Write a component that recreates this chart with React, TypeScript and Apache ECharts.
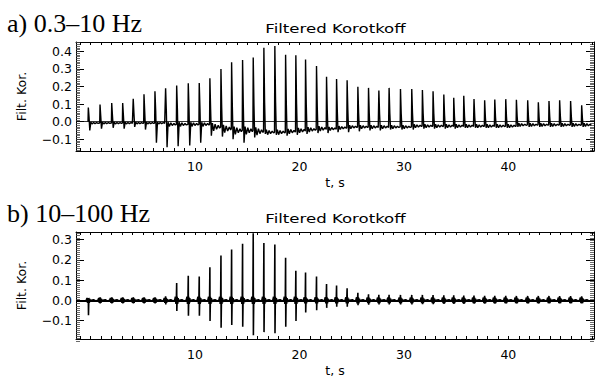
import React, { useEffect, useRef } from "react";
import * as echarts from "echarts";

// ---- data ----
const beatTimes = [-0.22, 0.9, 2.02, 3.07, 4.08, 5.11, 6.16, 7.18, 8.24, 9.35, 10.4, 11.42, 12.48, 13.5, 14.55, 15.57, 16.59, 17.64, 18.67, 19.65, 20.58, 21.63, 22.59, 23.55, 24.56, 25.59, 26.61, 27.6, 28.58, 29.67, 30.75, 31.77, 32.79, 33.82, 34.77, 35.73, 36.71, 37.73, 38.7, 39.75, 40.77, 41.85, 42.87, 43.89, 44.91, 45.96, 47.02];

// panel a (0.3–10 Hz)
const peakA = [0.08, 0.097, 0.106, 0.106, 0.13, 0.156, 0.173, 0.19, 0.205, 0.218, 0.22, 0.247, 0.3, 0.338, 0.35, 0.365, 0.42, 0.43, 0.38, 0.378, 0.353, 0.316, 0.255, 0.242, 0.236, 0.199, 0.192, 0.177, 0.192, 0.186, 0.186, 0.18, 0.173, 0.154, 0.136, 0.147, 0.128, 0.121, 0.126, 0.128, 0.125, 0.121, 0.11, 0.117, 0.121, 0.117, 0.093];
const troughA = [-0.05, -0.04, -0.035, -0.04, -0.03, -0.045, -0.12, -0.145, -0.14, -0.135, -0.12, -0.08, -0.085, -0.1, -0.12, -0.09, -0.07, -0.075, -0.08, -0.075, -0.07, -0.065, -0.065, -0.06, -0.06, -0.055, -0.05, -0.05, -0.045, -0.045, -0.045, -0.04, -0.04, -0.04, -0.04, -0.035, -0.035, -0.035, -0.035, -0.035, -0.03, -0.03, -0.03, -0.03, -0.03, -0.03, -0.03];
const baseA = [-0.008, -0.008, -0.008, -0.008, -0.008, -0.008, -0.008, -0.015, -0.015, -0.015, -0.015, -0.03, -0.04, -0.05, -0.05, -0.055, -0.06, -0.06, -0.055, -0.05, -0.045, -0.04, -0.04, -0.035, -0.03, -0.03, -0.03, -0.03, -0.03, -0.03, -0.025, -0.025, -0.025, -0.025, -0.025, -0.025, -0.025, -0.025, -0.025, -0.025, -0.018, -0.018, -0.018, -0.018, -0.018, -0.018, -0.018];
const rippleA = [0.005, 0.005, 0.005, 0.005, 0.005, 0.005, 0.005, 0.012, 0.012, 0.012, 0.012, 0.022, 0.022, 0.022, 0.022, 0.022, 0.014, 0.014, 0.014, 0.014, 0.014, 0.014, 0.01, 0.01, 0.01, 0.01, 0.01, 0.01, 0.01, 0.01, 0.01, 0.01, 0.01, 0.01, 0.01, 0.01, 0.01, 0.01, 0.01, 0.01, 0.009, 0.009, 0.009, 0.009, 0.009, 0.009, 0.009];

// panel b (10–100 Hz)
const peakB = [0.012, 0.015, 0.015, 0.015, 0.015, 0.015, 0.015, 0.02, 0.086, 0.122, 0.118, 0.164, 0.222, 0.251, 0.28, 0.332, 0.284, 0.276, 0.211, 0.146, 0.138, 0.118, 0.081, 0.073, 0.06, 0.037, 0.03, 0.028, 0.028, 0.027, 0.027, 0.027, 0.026, 0.025, 0.025, 0.024, 0.024, 0.023, 0.023, 0.023, 0.022, 0.022, 0.022, 0.022, 0.021, 0.021, 0.02];
const troughB = [-0.073, -0.015, -0.015, -0.015, -0.015, -0.015, -0.015, -0.02, -0.053, -0.076, -0.076, -0.102, -0.135, -0.122, -0.13, -0.173, -0.157, -0.162, -0.13, -0.102, -0.06, -0.049, -0.037, -0.032, -0.032, -0.024, -0.022, -0.02, -0.02, -0.02, -0.02, -0.019, -0.019, -0.018, -0.018, -0.018, -0.017, -0.017, -0.017, -0.016, -0.016, -0.016, -0.016, -0.015, -0.015, -0.015, -0.015];
const blobB = [0.012, 0.012, 0.012, 0.012, 0.012, 0.012, 0.012, 0.012, 0.018, 0.018, 0.018, 0.018, 0.018, 0.018, 0.018, 0.018, 0.018, 0.018, 0.018, 0.018, 0.015, 0.015, 0.015, 0.015, 0.015, 0.015, 0.014, 0.014, 0.014, 0.014, 0.014, 0.014, 0.014, 0.014, 0.014, 0.014, 0.014, 0.014, 0.014, 0.014, 0.014, 0.014, 0.014, 0.014, 0.014, 0.014, 0.014];

// axes
const T_MIN = -1.4;
const T_MAX = 48.2;
const xLabelVals = [10, 20, 30, 40];
const yLabelsA = [-0.1, 0, 0.1, 0.2, 0.3, 0.4];
const yLabelsB = [-0.1, 0, 0.1, 0.2, 0.3];
const Y_A: [number, number] = [-0.167, 0.453];
const Y_B: [number, number] = [-0.191, 0.338];

const xTickVals: number[] = [];
for (let k = -1; k <= 48; k++) xTickVals.push(k);
function minorTicks(lo: number, hi: number): number[] {
  const out: number[] = [];
  for (let k = Math.ceil(lo * 100); k <= Math.floor(hi * 100); k++) out.push(k / 100);
  return out;
}

// build traces from the per-beat readings
function traceA(): number[][] {
  const out: number[][] = [];
  beatTimes.forEach((t, i) => {
    const b = baseA[i];
    const r = rippleA[i];
    const before = i > 0 ? baseA[i - 1] : 0;
    out.push(
      [t - 0.03, before],
      [t, peakA[i]],
      [t + 0.07, b + peakA[i] * 0.4],
      [t + 0.14, troughA[i]],
      [t + 0.24, b + r],
      [t + 0.36, b - r],
      [t + 0.5, b + r * 0.7],
      [t + 0.64, b - r * 0.6],
      [t + 0.8, b + r * 0.4],
      [t + 0.93, b - r * 0.3]
    );
  });
  return out;
}
function traceB(): number[][] {
  const out: number[][] = [];
  beatTimes.forEach((t, i) => {
    const bl = blobB[i];
    out.push(
      [t - 0.2, 0],
      [t - 0.12, bl],
      [t - 0.07, -bl],
      [t - 0.03, bl * 0.6],
      [t, peakB[i]],
      [t + 0.015, troughB[i]],
      [t + 0.05, bl],
      [t + 0.09, -bl],
      [t + 0.14, bl * 0.6],
      [t + 0.2, -bl * 0.4],
      [t + 0.28, 0],
      [t + 0.5, 0.003],
      [t + 0.7, -0.003]
    );
  });
  return out;
}

const FONT = "DejaVu Sans";
const BLACK = "#000";
const GA = { left: 76, top: 42, width: 518, height: 109 };
const GB = { left: 76, top: 232, width: 518, height: 109 };

const fmtY = (v: number) => (v < 0 ? "\u2212" + Math.abs(v).toFixed(1) : v.toFixed(1));

function xAxesFor(grid: number) {
  const common = {
    type: "value",
    gridIndex: grid,
    min: T_MIN,
    max: T_MAX,
    splitLine: { show: false },
    axisLine: { show: true, onZero: false, lineStyle: { color: BLACK, width: 1 } },
    axisTick: { show: true, inside: true, length: 3, customValues: xTickVals, lineStyle: { color: BLACK, width: 1 } },
  };
  return [
    {
      ...common,
      position: "bottom",
      axisLabel: { show: true, customValues: xLabelVals, margin: 9, color: BLACK, fontFamily: FONT, fontSize: 12.5 },
      name: "t, s",
      nameLocation: "middle",
      nameGap: 25,
      nameTextStyle: { color: BLACK, fontFamily: FONT, fontSize: 12.5 },
    },
    { ...common, position: "top", axisLabel: { show: false } },
  ];
}
function yAxesFor(grid: number, range: [number, number], labels: number[]) {
  const common = {
    type: "value",
    gridIndex: grid,
    min: range[0],
    max: range[1],
    splitLine: { show: false },
    axisLine: { show: true, onZero: false, lineStyle: { color: BLACK, width: 1 } },
    axisTick: { show: true, inside: true, length: 8, customValues: labels, lineStyle: { color: BLACK, width: 1 } },
  };
  return [
    {
      ...common,
      position: "left",
      axisLabel: { show: true, customValues: labels, formatter: fmtY, margin: 4, color: BLACK, fontFamily: FONT, fontSize: 12.5 },
      name: "Filt. Kor.",
      nameLocation: "middle",
      nameRotate: 90,
      nameGap: 48,
      nameTextStyle: { color: BLACK, fontFamily: FONT, fontSize: 12.5 },
    },
    { ...common, position: "right", axisLabel: { show: false } },
  ];
}
function minorAxesFor(grid: number, range: [number, number]) {
  const common = {
    type: "value",
    gridIndex: grid,
    min: range[0],
    max: range[1],
    splitLine: { show: false },
    axisLine: { show: false, onZero: false },
    axisLabel: { show: false },
    axisTick: { show: true, inside: true, length: 4, customValues: minorTicks(range[0], range[1]), lineStyle: { color: "#444", width: 0.8 } },
  };
  return [
    { ...common, position: "left" },
    { ...common, position: "right" },
  ];
}

const zeroLine = (width: number) => ({
  silent: true,
  symbol: ["none", "none"],
  label: { show: false },
  lineStyle: { color: BLACK, width, type: "solid" },
  data: [{ yAxis: 0 }],
});

function buildOption() {
  return {
    animation: false,
    backgroundColor: "#fff",
    grid: [GA, GB, GA, GB],
    xAxis: [
      ...xAxesFor(0),
      ...xAxesFor(1),
      { type: "value", gridIndex: 2, min: T_MIN, max: T_MAX, show: false },
      { type: "value", gridIndex: 3, min: T_MIN, max: T_MAX, show: false },
    ],
    yAxis: [
      ...yAxesFor(0, Y_A, yLabelsA),
      ...yAxesFor(1, Y_B, yLabelsB),
      ...minorAxesFor(2, Y_A),
      ...minorAxesFor(3, Y_B),
    ],
    series: [
      {
        type: "line",
        xAxisIndex: 0,
        yAxisIndex: 0,
        data: traceA(),
        showSymbol: false,
        symbol: "none",
        lineStyle: { color: BLACK, width: 1.4 },
        markLine: zeroLine(0.8),
      },
      {
        type: "line",
        xAxisIndex: 2,
        yAxisIndex: 2,
        data: traceB(),
        showSymbol: false,
        symbol: "none",
        lineStyle: { color: BLACK, width: 1.6 },
        markLine: zeroLine(2),
      },
    ],
    graphic: [
      { type: "text", x: 7, y: 23, style: { text: "a) 0.3\u201310 Hz", fontFamily: "Liberation Serif", fontSize: 26, fill: BLACK, verticalAlign: "middle", textVerticalAlign: "middle" } },
      { type: "text", x: 7, y: 213, style: { text: "b) 10\u2013100 Hz", fontFamily: "Liberation Serif", fontSize: 26, fill: BLACK, verticalAlign: "middle", textVerticalAlign: "middle" } },
      { type: "text", x: 335.5, y: 29, scaleX: 1.38, style: { text: "Filtered Korotkoff", fontFamily: FONT, fontSize: 12, fill: BLACK, textAlign: "center", verticalAlign: "middle", textVerticalAlign: "middle" } },
      { type: "text", x: 335.5, y: 219, scaleX: 1.38, style: { text: "Filtered Korotkoff", fontFamily: FONT, fontSize: 12, fill: BLACK, textAlign: "center", verticalAlign: "middle", textVerticalAlign: "middle" } },
    ],
  };
}

export default function App() {
  const ref = useRef<HTMLDivElement>(null);
  useEffect(() => {
    if (!ref.current) return;
    const chart = echarts.init(ref.current, null, { renderer: "svg" });
    chart.setOption(buildOption() as any);
    return () => chart.dispose();
  }, []);
  return (
    <div
      ref={ref}
      style={{ position: "fixed", left: 0, top: 0, width: 595, height: 378, background: "#fff" }}
    />
  );
}
